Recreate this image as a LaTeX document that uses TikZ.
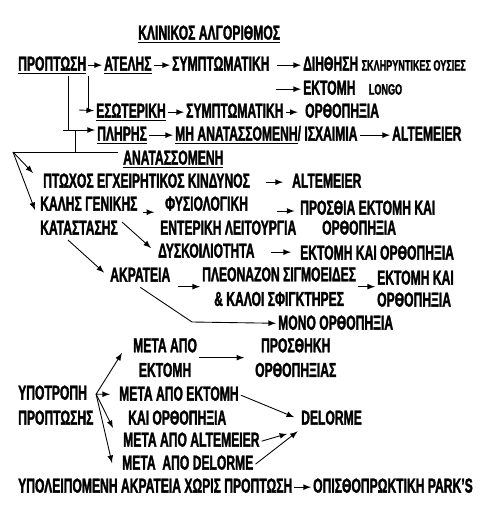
\documentclass[tikz,border=0pt]{standalone}
\usepackage{fontspec}
\setmainfont{Liberation Sans}[FakeStretch=0.60, BoldFeatures={FakeBold=1.5}]
\usepackage{tikz}
\usetikzlibrary{arrows,calc,positioning}
\tikzset{
  txt/.style={font=\bfseries\fontsize{11.5}{14}\selectfont, inner sep=1pt, text height=8.2pt, text depth=2pt},
  txtc/.style={font=\bfseries\fontsize{11.5}{14}\selectfont, inner sep=1pt, align=center}
}
\newcommand{\smalltxt}{\fontsize{8.6}{9}\selectfont}

\begin{document}
\begin{tikzpicture}[>=latex, line width=0.5pt]
\useasboundingbox[fill=white] (0,0) rectangle (9.9,-10.18);

\coordinate(O1) at (0,0);
\node[below right=0.46cm and 2.72cm of O1, txt](title) {\underline{ΚΛΙΝΙΚΟΣ ΑΛΓΟΡΙΘΜΟΣ}};

% prolapse, first rows
\node[below right=1.08cm and 0.32cm of O1, txt](prop) {\underline{ΠΡΟΠΤΩΣΗ}};
\node[below right=1.08cm and 2.04cm of O1, txt](atel) {\underline{ΑΤΕΛΗΣ}};
\node[below right=1.08cm and 3.40cm of O1, txt](symp1) {ΣΥΜΠΤΩΜΑΤΙΚΗ};
\node[below right=1.08cm and 6.02cm of O1, txt](dih) {ΔΙΗΘΗΣΗ {\smalltxt ΣΚΛΗΡΥΝΤΙΚΕΣ ΟΥΣΙΕΣ}};
\node[below right=1.56cm and 6.02cm of O1, txt](ekt1) {ΕΚΤΟΜΗ\hspace{0.2cm} {\smalltxt LONGO}};

\node[below right=2.02cm and 1.88cm of O1, txt](esot) {\underline{ΕΣΩΤΕΡΙΚΗ}};
\node[below right=2.02cm and 3.68cm of O1, txt](symp2) {ΣΥΜΠΤΩΜΑΤΙΚΗ};
\node[below right=2.02cm and 6.06cm of O1, txt](orth1) {ΟΡΘΟΠΗΞΙΑ};

\node[below right=2.48cm and 1.90cm of O1, txt](plir) {\underline{ΠΛΗΡΗΣ}};
\node[below right=2.48cm and 3.46cm of O1, txt](mian) {\underline{ΜΗ ΑΝΑΤΑΣΣΟΜΕΝΗ}/ ΙΣΧΑΙΜΙΑ};
\node[below right=2.48cm and 7.80cm of O1, txt](alt1) {ALTEMEIER};

\node[below right=2.96cm and 2.42cm of O1, txt](anat) {\underline{ΑΝΑΤΑΣΣΟΜΕΝΗ}};

% reducible
\node[below right=3.42cm and 0.82cm of O1, txt](ptox) {ΠΤΩΧΟΣ ΕΓΧΕΙΡΗΤΙΚΟΣ ΚΙΝΔΥΝΟΣ};
\node[below right=3.42cm and 5.80cm of O1, txt](alt2) {ALTEMEIER};
\node[below right=3.88cm and 0.76cm of O1, txt](kalis) {ΚΑΛΗΣ ΓΕΝΙΚΗΣ};
\node[below right=4.36cm and 0.76cm of O1, txt](katas) {ΚΑΤΑΣΤΑΣΗΣ};
\node[below right=3.88cm and 3.26cm of O1, txt](fysio) {ΦΥΣΙΟΛΟΓΙΚΗ};
\node[below right=4.36cm and 3.16cm of O1, txt](enter) {ΕΝΤΕΡΙΚΗ ΛΕΙΤΟΥΡΓΙΑ};
\node[below right=3.96cm and 5.96cm of O1, txt](prosth) {ΠΡΟΣΘΙΑ ΕΚΤΟΜΗ ΚΑΙ};
\node[below right=4.36cm and 6.40cm of O1, txt](orth2) {ΟΡΘΟΠΗΞΙΑ};
\node[below right=4.82cm and 3.12cm of O1, txt](dysk) {ΔΥΣΚΟΙΛΙΟΤΗΤΑ};
\node[below right=4.86cm and 5.96cm of O1, txt](ekt2) {ΕΚΤΟΜΗ ΚΑΙ ΟΡΘΟΠΗΞΙΑ};
\node[below right=5.30cm and 2.16cm of O1, txt](akr) {ΑΚΡΑΤΕΙΑ};
\node[below right=5.30cm and 4.00cm of O1, txtc](pleon) {ΠΛΕΟΝΑΖΟΝ ΣΙΓΜΟΕΙΔΕΣ\\\& ΚΑΛΟΙ ΣΦΙΓΚΤΗΡΕΣ};
\node[below right=5.36cm and 7.50cm of O1, txt](ekt3) {ΕΚΤΟΜΗ ΚΑΙ};
\node[below right=5.80cm and 7.50cm of O1, txt](orth3) {ΟΡΘΟΠΗΞΙΑ};
\node[below right=6.26cm and 5.52cm of O1, txt](mono) {ΜΟΝΟ ΟΡΘΟΠΗΞΙΑ};

% recurrence
\node[below right=6.72cm and 2.62cm of O1, txtc](meta1) {ΜΕΤΑ ΑΠΟ\\ΕΚΤΟΜΗ};
\node[below right=6.72cm and 5.06cm of O1, txtc](prosthiki) {ΠΡΟΣΘΗΚΗ\\ΟΡΘΟΠΗΞΙΑΣ};
\node[below right=7.66cm and 0.32cm of O1, txt](ypot) {ΥΠΟΤΡΟΠΗ};
\node[below right=8.16cm and 0.32cm of O1, txt](propt) {ΠΡΟΠΤΩΣΗΣ};
\node[below right=7.68cm and 2.34cm of O1, txt](meta2) {ΜΕΤΑ ΑΠΟ ΕΚΤΟΜΗ};
\node[below right=8.16cm and 2.52cm of O1, txt](kai) {ΚΑΙ ΟΡΘΟΠΗΞΙΑ};
\node[below right=8.60cm and 2.42cm of O1, txt](meta3) {ΜΕΤΑ ΑΠΟ ALTEMEIER};
\node[below right=9.06cm and 2.40cm of O1, txt](meta4) {ΜΕΤΑ~ ΑΠΟ DELORME};
\node[below right=8.16cm and 5.98cm of O1, txt](delorme) {DELORME};

\node[below right=9.52cm and 0.32cm of O1, txt](ypol) {ΥΠΟΛΕΙΠΟΜΕΝΗ ΑΚΡΑΤΕΙΑ ΧΩΡΙΣ ΠΡΟΠΤΩΣΗ};
\node[below right=9.52cm and 6.22cm of O1, txt](opis) {ΟΠΙΣΘΟΠΡΩΚΤΙΚΗ PARK’S};

% free ends
\coordinate (s1) at (1.58,-2.20);
\coordinate (s2) at (1.26,-2.60);
\coordinate (v2) at (1.36,-2.60);
\coordinate (v3) at (1.50,-2.60);
\coordinate (h1) at (0.26,-3.04);
\coordinate (h2) at (2.36,-3.04);
\coordinate (a1) at (0.66,-3.46);
\coordinate (a2) at (0.70,-4.20);
\coordinate[left=0.5cm of ekt1] (e1);
\coordinate (b1) at (5.54,-4.22);
\coordinate (c1) at (2.44,-4.44);
\coordinate (c2) at (3.02,-4.96);
\coordinate (d0) at (1.36,-4.80);
\coordinate (d1) at (3.84,-6.44);
\coordinate[right=0.14cm of ypot] (f1);
\coordinate (g1) at (2.44,-7.06);
\coordinate (g2) at (2.26,-8.56);
\coordinate (g3) at (2.24,-9.26);

\draw[->] (prop) -- (atel);
\draw[->] (atel) -- (symp1);
\draw[->, shorten <=3pt] (symp1) -- (dih);
\draw[->] (e1) -- (ekt1);
\draw (prop.south east) -- (prop.south east |- s1);
\draw[->] (s1) -- (esot);
\draw[->] (esot) -- (symp2);
\draw[->, shorten >=3pt] (symp2) -- (orth1);
\draw (v2 |- prop.south) -- (v2);
\draw[->] (s2) -- (s2 -| plir.west);
\draw[->] (plir) -- (mian);
\draw[->] (mian) -- (alt1);
\draw (v3) -- (v3 |- h1);
\draw (h1) -- (h2);
\draw[->] (h1) -- (a1);
\draw[->] (h1) -- (a2);

\draw[->, shorten <=8pt, shorten >=4pt] (ptox) -- (alt2);
\draw[->, shorten <=2pt, shorten >=5pt] ([yshift=-4pt]kalis.east) -- ([yshift=-4pt]fysio.west);
\draw[->, shorten >=2pt] (b1) -- (b1 -| prosth.west);
\draw[->] (c1) -- (c2);
\draw[->, shorten <=8pt, shorten >=4pt] (dysk.east) -- (dysk.east -| ekt2.west);
\draw[->, shorten >=3pt] (d0) -- (akr.west);
\draw[->, shorten <=3pt] (akr.east |- pleon.west) -- (pleon.west);
\draw[->] (pleon) -- (ekt3.west |- pleon.east);
\draw[->] (akr.south) -- (d1) -- (mono);

\draw[->, shorten >=5pt] (meta1) -- (prosthiki);
\draw[->] (f1) -- (g1);
\draw[->, shorten >=4pt] (f1) -- (meta2);
\draw[->] (f1) -- (g2);
\draw[->] (f1) -- (g3);
\draw[->, shorten >=3pt] (meta2.east) -- (delorme.west);
\draw[->, shorten >=7pt] (meta3.east) -- (delorme.south west);
\draw[->, shorten >=1pt] (meta4.east) -- (delorme.south west);
\draw[->] (ypol) -- (opis);
\end{tikzpicture}
\end{document}
